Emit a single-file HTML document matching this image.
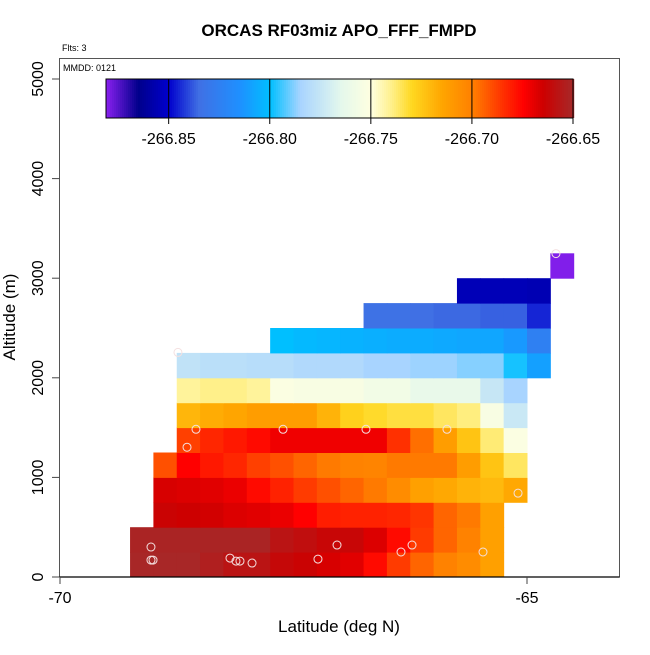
<!DOCTYPE html>
<html><head><meta charset="utf-8"><style>
html,body{margin:0;padding:0;background:#fff;}
svg text{font-family:"Liberation Sans",sans-serif;}
</style></head><body>
<svg id="chart" width="650" height="650" viewBox="0 0 650 650" xmlns="http://www.w3.org/2000/svg">
<text x="339" y="36" text-anchor="middle" font-size="17" font-weight="bold">ORCAS RF03miz APO_FFF_FMPD</text>
<text x="62" y="51" font-size="9">Flts: 3</text>
<rect x="59.5" y="58.5" width="560" height="518.5" fill="none" stroke="#555" stroke-width="1"/>
<text x="63" y="71" font-size="9">MMDD: 0121</text>
<g id="cells"></g>
<g id="points"></g>
<g id="cbar"></g>
<g id="axes"></g>
<text x="339" y="632" text-anchor="middle" font-size="17">Latitude (deg N)</text>
<text transform="translate(15,317) rotate(-90)" text-anchor="middle" font-size="17">Altitude (m)</text>
</svg>
<script>
// ---- data ----
const latStart = -69.25;      // first column's left edge (deg N)
const latStep = 0.25;
const altStep = 250;          // m per row
const rowStartCol = [0,0,1,1,1,2,2,2,2,6,10,14,18];
const row0 = [-266.651,-266.651,-266.651,-266.654,-266.658,-266.658,-266.662,-266.664,-266.667,-266.669,-266.677,-266.687,-266.695,-266.701,-266.705,-266.713];
const row1 = [-266.652,-266.652,-266.652,-266.652,-266.652,-266.652,-266.658,-266.66,-266.663,-266.663,-266.668,-266.677,-266.687,-266.695,-266.701,-266.713];
const row2 = [-266.664,-266.665,-266.666,-266.668,-266.669,-266.671,-266.675,-266.681,-266.682,-266.682,-266.683,-266.686,-266.695,-266.699,-266.713];
const row3 = [-266.667,-266.668,-266.669,-266.671,-266.677,-266.682,-266.687,-266.691,-266.695,-266.699,-266.705,-266.713,-266.716,-266.719,-266.721,-266.716];
const row4 = [-266.691,-266.675,-266.68,-266.683,-266.688,-266.691,-266.695,-266.699,-266.701,-266.702,-266.699,-266.699,-266.699,-266.712,-266.724,-266.736];
const row5 = [-266.688,-266.683,-266.68,-266.677,-266.672,-266.672,-266.672,-266.672,-266.672,-266.685,-266.697,-266.712,-266.724,-266.738,-266.752];
const row6 = [-266.72,-266.717,-266.715,-266.712,-266.712,-266.712,-266.719,-266.728,-266.731,-266.733,-266.733,-266.736,-266.739,-266.754,-266.774];
const row7 = [-266.742,-266.740,-266.740,-266.742,-266.752,-266.754,-266.754,-266.754,-266.757,-266.757,-266.762,-266.762,-266.762,-266.775,-266.785];
const row8 = [-266.777,-266.779,-266.779,-266.780,-266.780,-266.782,-266.782,-266.782,-266.785,-266.785,-266.786,-266.786,-266.788,-266.788,-266.798,-266.81];
const row9 = [-266.80,-266.802,-266.803,-266.804,-266.805,-266.806,-266.806,-266.807,-266.808,-266.808,-266.812,-266.825];
const row10 = [-266.834,-266.834,-266.835,-266.836,-266.836,-266.837,-266.837,-266.845];
const row11 = [-266.855,-266.855,-266.855,-266.856];
const row12 = [-266.88];
const rows = [row0,row1,row2,row3,row4,row5,row6,row7,row8,row9,row10,row11,row12];
const pointLat = [-68.544,-67.612,-66.724,-65.857,-68.640,-65.096,-69.026,-69.026,-69.004,-68.180,-68.116,-68.073,-67.944,-67.238,-67.034,-66.349,-66.231,-65.471,-68.737,-64.690];
const pointAlt = [1483,1483,1483,1483,1303,842,301,170,170,190,160,160,140,180,321,251,321,251,2255,3247];
const xTicks = [-70,-65];
const yTicks = [0,1000,2000,3000,4000,5000];
const cbTicks = [-266.85,-266.80,-266.75,-266.70,-266.65];
const cbMin = -266.881, cbMax = -266.65;

// ---- scales ----
const X = v => 60 + (v + 70) * 93.4;
const Y = v => 577 - v * 0.0996;
const CB = v => 106 + (v - cbMin) / (cbMax - cbMin) * 467;
const stops = [[-266.881,'#8a20f0'],[-266.865,'#00008b'],[-266.85,'#0000cd'],[-266.835,'#4070e4'],[-266.815,'#1e90ff'],[-266.80,'#00bfff'],[-266.785,'#a8d4ff'],[-266.765,'#e4f8ec'],[-266.75,'#ffffe0'],[-266.74,'#fff08a'],[-266.73,'#ffd820'],[-266.715,'#ffa500'],[-266.70,'#ff7f00'],[-266.685,'#ff3000'],[-266.675,'#ff0000'],[-266.665,'#cd0000'],[-266.65,'#a52a2a']];
function hx(c){return [1,3,5].map(i=>parseInt(c.substr(i,2),16));}
function cmap(v){
  if(v<=stops[0][0]) return stops[0][1];
  for(let i=1;i<stops.length;i++){
    if(v<=stops[i][0]){
      const t=(v-stops[i-1][0])/(stops[i][0]-stops[i-1][0]);
      const a=hx(stops[i-1][1]),b=hx(stops[i][1]);
      return 'rgb('+a.map((x,k)=>Math.round(x+(b[k]-x)*t)).join(',')+')';
    }
  }
  return stops[stops.length-1][1];
}
const NS='http://www.w3.org/2000/svg';
function mk(tag,attrs,parent){const e=document.createElementNS(NS,tag);for(const k in attrs)e.setAttribute(k,attrs[k]);parent.appendChild(e);return e;}

// ---- heatmap ----
const gC=document.getElementById('cells');
rows.forEach((vals,r)=>{
  vals.forEach((v,i)=>{
    const c=rowStartCol[r]+i;
    const l0=latStart+c*latStep, a0=r*altStep;
    const x0=X(l0), x1=X(l0+latStep), y0=Y(a0+altStep), y1=Y(a0);
    const el=mk('rect',{x:x0,y:y0,width:x1-x0+0.5,height:y1-y0+0.5,fill:cmap(v)},gC);
    
    
  });
});
// ---- points ----
const gP=document.getElementById('points');
pointLat.forEach((la,i)=>{
  const el=mk('circle',{cx:X(la),cy:Y(pointAlt[i]),r:4,fill:'none',stroke:'#f4e0e0','stroke-width':1},gP);
  
  
});
// ---- colorbar ----
const gB=document.getElementById('cbar');
for(let i=0;i<234;i++){
  const x=106+i*2;
  const v=cbMin+(i+0.5)/234*(cbMax-cbMin);
  mk('rect',{x:x,y:79,width:2.2,height:39,fill:cmap(v)},gB);
}
mk('rect',{x:106,y:79,width:467,height:39,fill:'none',stroke:'#000','stroke-width':1},gB);
cbTicks.forEach(t=>{
  const x=CB(t);
  mk('line',{x1:x,x2:x,y1:79,y2:124,stroke:'#000','stroke-width':1},gB);
  const tx=mk('text',{x:x,y:144,'text-anchor':'middle','font-size':16},gB);
  tx.textContent=t.toFixed(2);
  
  
});
// ---- axes ----
const gA=document.getElementById('axes');
mk('line',{x1:59.5,x2:619.5,y1:577,y2:577,stroke:'#000','stroke-width':1.2},gA);
xTicks.forEach(t=>{
  const x=X(t);
  mk('line',{x1:x,x2:x,y1:577,y2:584,stroke:'#444'},gA);
  const tx=mk('text',{x:x,y:603,'text-anchor':'middle','font-size':16},gA);
  tx.textContent=t;
  
  
});
yTicks.forEach(t=>{
  const y=Y(t);
  mk('line',{x1:52,x2:59.5,y1:y,y2:y,stroke:'#444'},gA);
  const tx=mk('text',{x:0,y:0,'text-anchor':'middle','font-size':16,transform:'translate(43,'+y+') rotate(-90)'},gA);
  tx.textContent=t;
  
  
});
</script>
</body></html>
